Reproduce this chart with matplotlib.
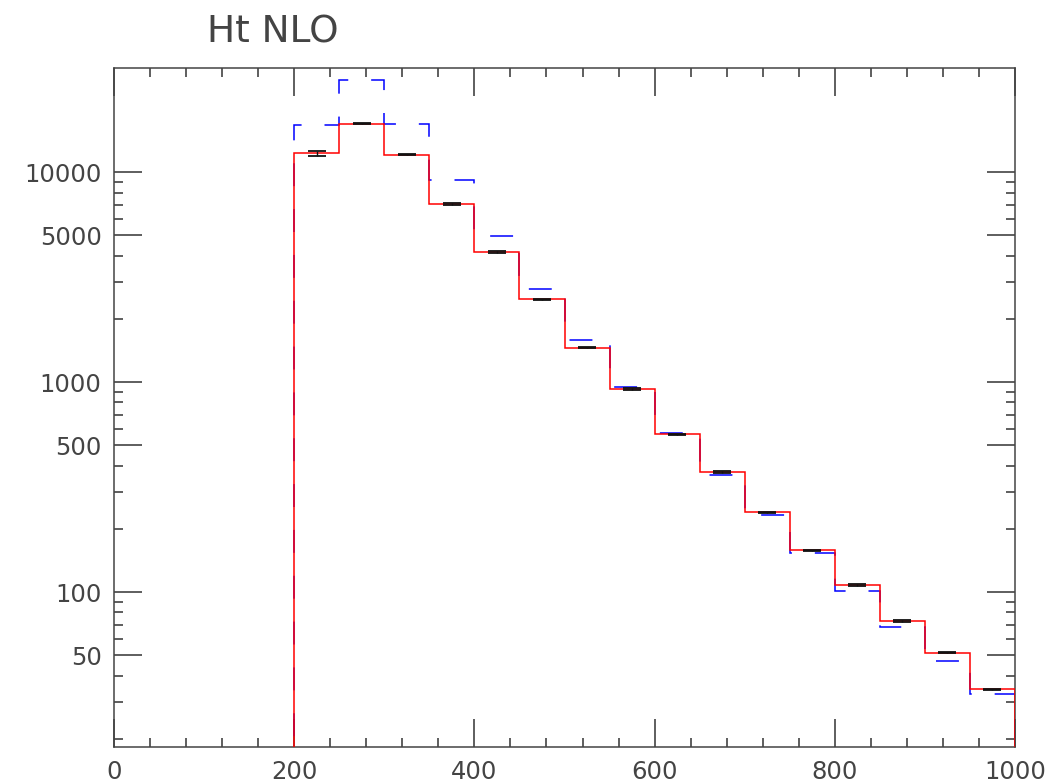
import numpy as np
import matplotlib
matplotlib.use("Agg")
import matplotlib.pyplot as plt
from matplotlib.ticker import FixedLocator, FixedFormatter, NullFormatter

# Ht distribution, 50 GeV bins from 200 to 1000
bin_edges = [200, 250, 300, 350, 400, 450, 500, 550, 600, 650,
             700, 750, 800, 850, 900, 950, 1000]
nlo_red = [12300, 17050, 12150, 7070, 4170, 2480, 1460, 927, 565, 373,
           240, 158, 108, 72.8, 51.3, 34.4]
nlo_err = [320, 130, 90, 50, 28, 16, 9, 6, 3.5, 2.3, 1.5, 1.0, 0.7, 0.5, 0.35, 0.25]
ref_blue = [16870, 27400, 17060, 9230, 4980, 2770, 1585, 946, 575, 361,
            233, 153, 101, 68.4, 47.1, 32.6]

title = "Ht NLO"
y_major = [50, 100, 500, 1000, 5000, 10000]
y_major_labels = ["50", "100", "500", "1000", "5000", "10000"]
x_major = [0, 200, 400, 600, 800, 1000]

fig = plt.figure(figsize=(10.48, 7.81), dpi=100)
ax = fig.add_axes([0.1088, 0.0435, 0.8597, 0.8694])

ax.set_yscale("log")
ax.set_xlim(0, 1000)
ax.set_ylim(18.25, 31400)

edges = np.array(bin_edges, dtype=float)
centers = 0.5 * (edges[:-1] + edges[1:])

ax.stairs(ref_blue, edges, baseline=1, color="#0000ff", lw=1.1,
          linestyle=(0, (15, 15)), zorder=2)
ax.stairs(nlo_red, edges, baseline=1, color="#ff0000", lw=1.1, zorder=3)
ax.errorbar(centers, nlo_red, yerr=nlo_err, fmt="none", ecolor="#111111",
            elinewidth=1.0, capsize=6.8, capthick=1.3, zorder=4)

# Axis frame and inward ticks on all four sides
for sp in ax.spines.values():
    sp.set_color("#444444")
    sp.set_linewidth(1.1)

ax.xaxis.set_major_locator(FixedLocator(x_major))
ax.xaxis.set_minor_locator(FixedLocator(np.arange(0, 1001, 40)))
ax.yaxis.set_major_locator(FixedLocator(y_major))
ax.yaxis.set_major_formatter(FixedFormatter(y_major_labels))
minor_y = [v * d for d in (10, 100, 1000) for v in (2, 3, 4, 6, 7, 8, 9)]
ax.yaxis.set_minor_locator(FixedLocator(minor_y))
ax.yaxis.set_minor_formatter(NullFormatter())

ax.tick_params(which="both", direction="in", top=True, right=True,
               color="#333333", width=1.1)
ax.tick_params(which="major", length=20, pad=9, labelsize=17.5,
               labelcolor="#444444")
ax.tick_params(which="minor", length=6.5)

fig.text(0.1975, 0.945, title, fontsize=27, color="#444444",
         ha="left", va="baseline")

fig.savefig("out.png", dpi=100, facecolor="white")
